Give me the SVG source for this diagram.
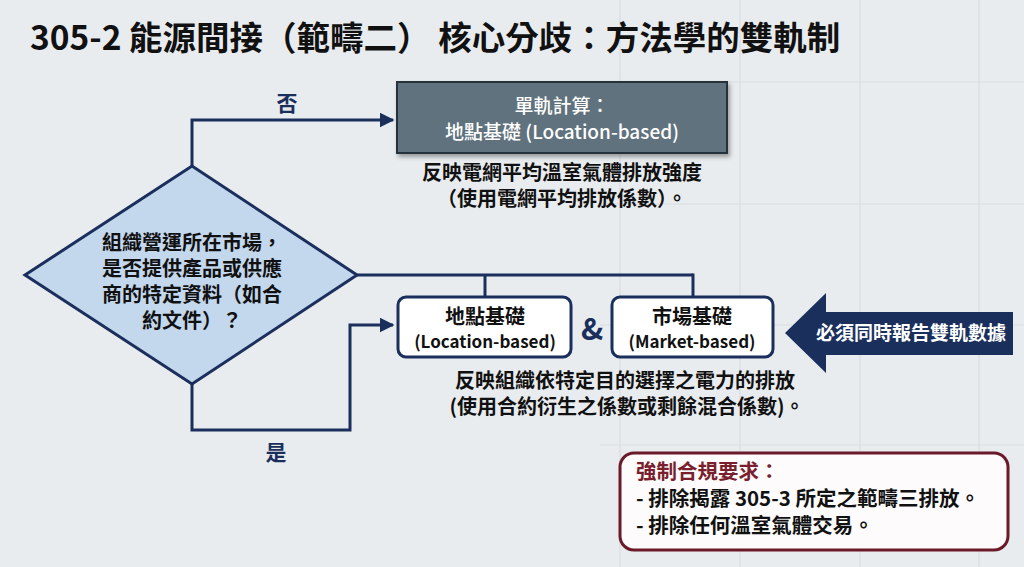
<svg xmlns="http://www.w3.org/2000/svg" width="1024" height="567" viewBox="0 0 1024 567">
<defs>
<style>
text{font-family:"Noto Sans CJK TC","Noto Sans CJK SC","Noto Sans",sans-serif;font-weight:700;}
.t{fill:#111;font-size:20px;text-anchor:middle;}
.lab{fill:#1b2f5c;font-size:21px;text-anchor:middle;}
.grid{stroke:#d9dde2;stroke-width:1.2;}
.conn{fill:none;stroke:#1b2f5c;stroke-width:3;}
.box{fill:#ffffff;stroke:#1b2f5c;stroke-width:3;}
</style>
<marker id="arr" viewBox="0 0 10 10" refX="9" refY="5" markerWidth="5" markerHeight="5" orient="auto" markerUnits="strokeWidth">
<path d="M0,0 L10,5 L0,10 z" fill="#1b2f5c"/>
</marker>
<filter id="sh" x="-10%" y="-10%" width="130%" height="140%">
<feDropShadow dx="2" dy="3" stdDeviation="2" flood-color="#000" flood-opacity="0.35"/>
</filter>
</defs>
<rect width="1024" height="567" fill="#e9ecef"/>
<g id="grid">
<line class="grid" x1="620" y1="0" x2="620" y2="567"/>
<line class="grid" x1="740" y1="0" x2="740" y2="567"/>
<line class="grid" x1="860" y1="0" x2="860" y2="567"/>
<line class="grid" x1="979" y1="0" x2="979" y2="567"/>
<line class="grid" x1="600" y1="82" x2="1024" y2="82"/>
<line class="grid" x1="600" y1="204" x2="1024" y2="204"/>
<line class="grid" x1="600" y1="325" x2="1024" y2="325"/>
<line class="grid" x1="600" y1="445" x2="1024" y2="445"/>
</g>
<text x="30" y="50" style="font-size:33.5px;fill:#111;">305-2 能源間接（範疇二） 核心分歧：方法學的雙軌制</text>
<g id="connectors">
<polyline class="conn" points="192,166 192,120 393,120" marker-end="url(#arr)"/>
<polyline class="conn" points="357,275 693,275"/>
<line class="conn" x1="485" y1="275" x2="485" y2="297"/>
<line class="conn" x1="693" y1="273.5" x2="693" y2="297"/>
<polyline class="conn" points="192,384 192,430 350,430 350,325 393,325" marker-end="url(#arr)"/>
<text class="lab" x="287" y="111">否</text>
<text class="lab" x="276" y="460">是</text>
</g>
<g id="decision">
<polygon points="25,275 192,166 357,275 192,384" fill="#c3d7ed" stroke="#1b2f5c" stroke-width="3"/>
<text class="t" x="192" y="250">組織營運所在市場，</text>
<text class="t" x="192" y="276">是否提供產品或供應</text>
<text class="t" x="192" y="302">商的特定資料（如合</text>
<text class="t" x="192" y="328">約文件）？</text>
</g>
<g id="single-track">
<rect x="397" y="82" width="330" height="71" fill="#5f727e" stroke="#25323a" stroke-width="2" filter="url(#sh)"/>
<text x="562" y="113" style="fill:#fff;font-size:19px;text-anchor:middle;font-weight:500;">單軌計算：</text>
<text x="562" y="139" style="fill:#fff;font-size:19px;text-anchor:middle;font-weight:500;">地點基礎 (Location-based)</text>
<text class="t" x="562" y="180">反映電網平均溫室氣體排放強度</text>
<text class="t" x="562" y="206">（使用電網平均排放係數）。</text>
</g>
<g id="location-based">
<rect class="box" x="398" y="297" width="173" height="60" rx="8"/>
<text x="485" y="324" style="fill:#111;font-size:20px;text-anchor:middle;">地點基礎</text>
<text x="485" y="348" style="fill:#111;font-size:17px;text-anchor:middle;">(Location-based)</text>
</g>
<text x="592" y="340" style="fill:#1b2f5c;font-size:30px;text-anchor:middle;">&amp;</text>
<g id="market-based">
<rect class="box" x="612" y="297" width="161" height="60" rx="8"/>
<text x="692" y="324" style="fill:#111;font-size:20px;text-anchor:middle;">市場基礎</text>
<text x="692" y="348" style="fill:#111;font-size:17px;text-anchor:middle;">(Market-based)</text>
</g>
<g id="dual-text">
<text class="t" x="625" y="388">反映組織依特定目的選擇之電力的排放</text>
<text class="t" x="627" y="414">(使用合約衍生之係數或剩餘混合係數)。</text>
</g>
<g id="dual-arrow">
<polygon points="785,333 826,293 826,312 1013,312 1013,355 826,355 826,373" fill="#1b2f5c"/>
<text x="911" y="340" style="fill:#fff;font-size:19px;text-anchor:middle;">必須同時報告雙軌數據</text>
</g>
<g id="compliance">
<rect x="620" y="453" width="388" height="97" rx="14" fill="#fdfbfb" stroke="#6b1a2a" stroke-width="3"/>
<text x="636" y="479" style="fill:#7a1f2e;font-size:20.5px;">強制合規要求：</text>
<text x="636" y="506" style="fill:#111;font-size:20.5px;">- 排除揭露 305-3 所定之範疇三排放。</text>
<text x="636" y="533" style="fill:#111;font-size:20.5px;">- 排除任何溫室氣體交易。</text>
</g>
</svg>
